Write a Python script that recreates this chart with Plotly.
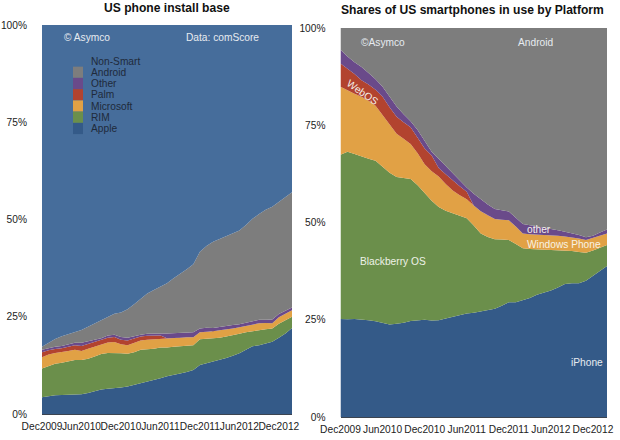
import plotly.graph_objects as go

months = list(range(39))
tick_months = [0, 6, 12, 18, 24, 30, 36]
tick_labels = ["Dec2009", "Jun2010", "Dec2010", "Jun2011", "Dec2011", "Jun2012", "Dec2012"]
pct_ticks = [0, 25, 50, 75, 100]
pct_labels = ["0%", "25%", "50%", "75%", "100%"]

# Left chart: cumulative tops of each band, percent of US phones
base_apple = [4.3,4.6,4.8,4.9,5.0,5.1,5.1,5.4,5.8,6.3,6.5,6.6,6.8,7.1,7.5,7.9,8.3,8.8,9.2,9.7,10.0,10.4,10.8,11.3,12.6,13.0,13.4,13.9,14.4,15.0,15.6,16.5,17.4,17.7,18.1,18.6,19.6,20.7,22.1]
base_rim = [11.7,12.4,12.9,13.2,13.5,13.9,13.9,14.2,14.8,15.4,15.7,15.7,15.6,15.5,15.9,16.5,16.6,16.8,17.1,17.1,17.3,17.4,17.6,17.7,19.2,19.3,19.4,19.6,19.9,20.2,20.6,21.0,21.3,21.6,21.8,22.0,23.2,24.1,25.0]
base_ms = [14.6,15.3,15.7,15.9,16.2,16.5,16.2,16.8,17.3,17.7,18.4,18.5,17.9,17.7,18.4,18.9,19.1,19.2,19.3,19.5,19.5,19.6,19.7,19.7,21.0,21.1,21.3,21.5,21.7,22.0,22.3,22.7,23.0,23.3,23.4,23.3,24.9,25.7,26.7]
base_palm = [15.9,16.4,16.7,16.9,17.3,17.7,17.5,18.0,18.5,18.9,19.6,19.8,19.1,18.9,19.5,19.9,20.1,20.2,20.2,19.5,19.5,19.6,19.7,19.7,21.0,21.1,21.3,21.5,21.7,22.0,22.3,22.7,23.0,23.3,23.4,23.3,24.9,25.7,26.7]
base_other = [16.5,17.0,17.3,17.5,17.9,18.3,18.3,18.8,19.1,19.5,20.2,20.4,19.8,19.6,20.0,20.4,20.6,20.7,20.7,20.7,20.8,20.9,21.0,21.0,22.0,22.2,22.1,22.4,22.6,22.9,23.1,23.5,23.8,24.2,24.2,24.3,25.7,26.5,27.4]
base_android = [17.3,18.4,19.3,20.0,20.5,21.0,21.6,22.4,23.2,24.0,25.0,25.8,26.1,26.9,28.2,29.7,31.0,31.9,32.8,33.6,34.9,36.0,37.2,38.5,41.7,43.2,44.3,45.0,45.7,46.4,47.2,48.6,50.2,51.4,52.5,53.3,54.5,55.6,57.0]
base_nonsmart = [100] * 39

# Right chart: cumulative tops, percent of US smartphones
share_iphone = [25.2,25.1,25.2,25.1,24.9,24.6,24.1,23.8,24.0,24.2,24.7,24.9,25.0,24.8,24.9,25.3,25.8,26.2,26.6,26.8,27.1,27.4,27.8,28.6,29.5,29.5,30.0,30.6,31.4,31.9,32.5,33.3,34.2,34.4,34.4,35.0,36.2,37.6,38.8]
share_rim = [67.4,68.2,67.6,66.9,66.4,65.9,64.4,62.8,61.7,61.5,61.2,59.6,57.6,55.6,54.0,53.0,52.4,51.7,51.1,49.2,47.2,46.3,45.7,45.6,45.5,44.5,43.4,43.2,43.1,43.0,42.9,42.8,42.7,42.7,42.4,42.2,42.8,43.5,44.2]
share_ms = [84.9,83.9,83.1,82.3,81.3,80.0,77.6,74.9,72.8,71.5,70.2,67.8,65.0,63.2,61.8,59.9,58.2,57.0,56.0,54.4,52.9,51.8,50.9,50.7,50.6,49.0,47.2,47.0,46.9,46.8,46.8,46.6,46.4,46.2,45.9,45.5,46.1,46.6,47.2]
share_palm = [90.9,89.6,88.2,86.6,85.5,84.1,82.3,79.6,77.2,75.8,74.5,71.8,69.0,67.2,64.0,62.4,60.8,59.3,57.9,54.4,52.9,51.8,50.9,50.7,50.6,49.0,47.2,47.0,46.9,46.8,46.8,46.6,46.4,46.2,45.9,45.5,46.1,46.6,47.2]
share_other = [94.5,92.7,91.2,90.0,88.4,86.8,84.9,82.2,79.8,77.8,76.0,73.8,71.0,68.2,66.4,64.5,62.6,60.8,59.0,57.4,55.9,54.6,53.5,53.1,52.8,51.2,49.6,49.3,49.0,48.7,48.3,48.0,47.6,47.2,46.8,46.2,46.6,47.4,48.2]
share_android = [100] * 39

legend_names = ["Non-Smart", "Android", "Other", "Palm", "Microsoft", "RIM", "Apple"]

C_NONSMART = "#466d9b"
C_ANDROID = "#7d7d7d"
C_OTHER = "#6a4a8a"
C_PALM = "#b2432f"
C_MS = "#e1a145"
C_RIM = "#6b8f4b"
C_APPLE = "#345a88"
FONT = "Liberation Sans"
W, H = 620, 440


def px(x):
    return x / W


def py(y):
    return 1 - y / H


fig = go.Figure()


def add_bands(series, xa, ya):
    for i, (name, vals, col) in enumerate(series):
        fig.add_trace(go.Scatter(
            x=months, y=vals, name=name, mode="lines", xaxis=xa, yaxis=ya,
            line=dict(width=0, color=col), fill="tozeroy" if i == 0 else "tonexty",
            fillcolor=col, showlegend=False, hoverinfo="name+y"))


add_bands([("Apple", base_apple, C_APPLE), ("RIM", base_rim, C_RIM), ("Microsoft", base_ms, C_MS),
           ("Palm", base_palm, C_PALM), ("Other", base_other, C_OTHER),
           ("Android", base_android, C_ANDROID), ("Non-Smart", base_nonsmart, C_NONSMART)], "x", "y")
add_bands([("iPhone", share_iphone, C_APPLE), ("Blackberry OS", share_rim, C_RIM),
           ("Windows Phone", share_ms, C_MS), ("WebOS", share_palm, C_PALM),
           ("other", share_other, C_OTHER), ("Android", share_android, C_ANDROID)], "x2", "y2")

tf = dict(family=FONT, size=10.2, color="#222222")
xcommon = dict(range=[0, 38], tickmode="array", tickvals=tick_months, ticktext=tick_labels,
               tickfont=tf, tickangle=0, showgrid=False, zeroline=False, showline=True,
               linecolor="#3c4450", linewidth=1, ticks="outside", ticklen=3, tickcolor="rgba(0,0,0,0)",
               automargin=False)
ycommon = dict(range=[0, 100], tickmode="array", tickvals=pct_ticks, ticktext=pct_labels,
               tickfont=tf, showgrid=False, zeroline=False, showline=False,
               ticks="outside", ticklen=12, tickcolor="rgba(0,0,0,0)", automargin=False)

annotations = []


def label(text, x, y, color="#e6ebf0", size=10.2, anchor="left", bold=False, angle=0):
    annotations.append(dict(
        text=f"<b>{text}</b>" if bold else text, x=px(x), y=py(y), xref="paper", yref="paper",
        xanchor=anchor, yanchor="middle", showarrow=False, textangle=angle,
        font=dict(family=FONT, size=size, color=color)))


label("US phone install base", 166.7, 7.5, "#111111", 12.1, "center", True)
label("Shares of US smartphones in use by Platform", 472.8, 10, "#111111", 12.1, "center", True)
label("© Asymco", 61.5, 37.5)
label("Data: comScore", 184, 37.5)
label("©Asymco", 359, 42)
label("Android", 516, 42)
label("WebOS", 362.7, 92, "#f4f0ea", 10.2, "center", False, 35)
label("other", 525, 229, "#f4f0ea")
label("Windows Phone", 525, 244, "#f8f2e4")
label("Blackberry OS", 358, 261.3, "#eef2e8")
label("iPhone", 569, 362.7)

swatch_cols = [None, C_ANDROID, C_OTHER, C_PALM, C_MS, C_RIM, C_APPLE]
shapes = []
for i, name in enumerate(legend_names):
    yc = 61 + i * 11.25
    label(name, 89, yc, "#1f2a3a")
    if swatch_cols[i]:
        shapes.append(dict(type="rect", xref="paper", yref="paper", x0=px(73), x1=px(83),
                           y0=py(yc - 5.6), y1=py(yc + 5.6), line=dict(width=0),
                           fillcolor=swatch_cols[i]))

fig.update_layout(
    width=W, height=H, margin=dict(l=0, r=0, t=0, b=0), paper_bgcolor="white", plot_bgcolor="white",
    showlegend=False, annotations=annotations, shapes=shapes,
    xaxis=dict(domain=[px(42), px(292)], anchor="y", **xcommon),
    yaxis=dict(domain=[py(414), py(25)], anchor="x", **ycommon),
    xaxis2=dict(domain=[px(340.5), px(607)], anchor="y2", **xcommon),
    yaxis2=dict(domain=[py(417), py(28)], anchor="x2", **ycommon),
)

fig.write_html("out.html", config={"displayModeBar": False},
               post_script="document.body.style.margin='0';document.body.style.overflow='hidden';")
